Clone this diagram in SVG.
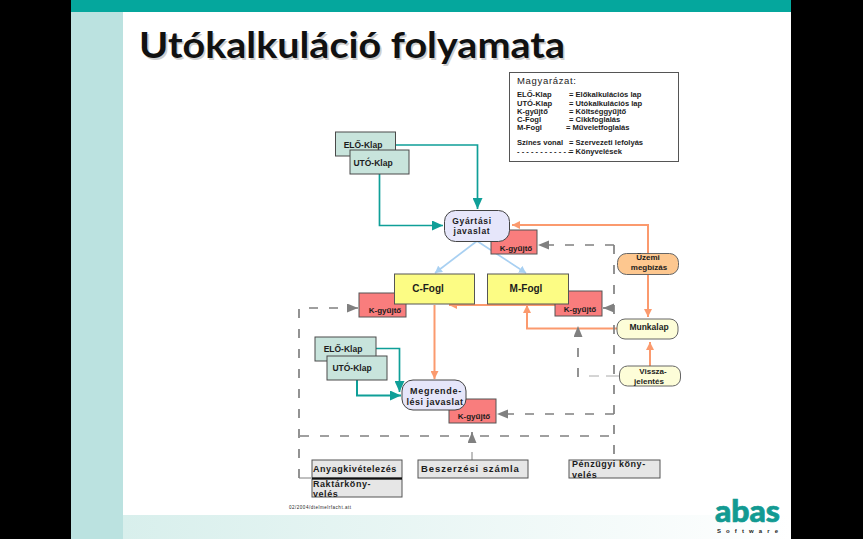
<svg xmlns="http://www.w3.org/2000/svg" width="863" height="539" viewBox="0 0 863 539">
<style>
text{font-family:"Liberation Sans",Arial,sans-serif;fill:#1c1c1c}
.sheet{fill:#c8e4dc;stroke:#4a4a4a;stroke-width:1}
.fog{fill:#fcfc84;stroke:#555;stroke-width:1}
.kg{fill:#f97d7d;stroke:#555;stroke-width:1}
.job{fill:#e6e6fa;stroke:#444;stroke-width:1}
.ord{fill:#fdfdd8;stroke:#666;stroke-width:1}
.grey{fill:#e6e6e6;stroke:#555;stroke-width:1}
.t{font-size:8.500px;font-weight:bold;text-anchor:middle}
.k{font-size:8px;font-weight:bold;text-anchor:middle}
.w{font-size:9px;font-weight:bold;letter-spacing:.55px}
.l{font-size:7.600px;font-weight:bold}
.flow{fill:none;stroke-width:1.7}
.teal{stroke:#0f9f98}
.orange{stroke:#fb9a6e;stroke-width:2}
.blue{stroke:#a8d0f2}
.dash{fill:none;stroke:#808080;stroke-width:1.7;stroke-dasharray:9 11}
.thin{fill:none;stroke:#808080;stroke-width:1}
</style>
<defs>
<linearGradient id="bandBottom" x1="0" x2="1" y1="0" y2="0"><stop offset="0" stop-color="#d8efec"/><stop offset="1" stop-color="#ffffff"/></linearGradient>
<marker id="aTeal" markerWidth="12" markerHeight="10" refX="11" refY="5" orient="auto" markerUnits="userSpaceOnUse"><path d="M0 0L11 5L0 10Z" fill="#0f9f98"/></marker>
<marker id="aOrange" markerWidth="9" markerHeight="8" refX="8" refY="4" orient="auto" markerUnits="userSpaceOnUse"><path d="M0 0L8 4L0 8Z" fill="#fb9a6e"/></marker>
<marker id="aBlue" markerWidth="8" markerHeight="8" refX="7" refY="4" orient="auto" markerUnits="userSpaceOnUse"><path d="M0 0L7 4L0 8Z" fill="#a8d0f2"/></marker>
<marker id="aGrey" markerWidth="12" markerHeight="10" refX="11" refY="4.500" orient="auto" markerUnits="userSpaceOnUse"><path d="M0 0L11 4.500L0 9Z" fill="#808080"/></marker>
</defs>

<!-- slide frame -->
<rect width="863" height="539" fill="#000"/>
<rect x="71" y="0" width="720" height="539" fill="#fff"/>
<rect x="71" y="12" width="52" height="527" fill="#bbe2e0"/>
<rect x="123" y="515" width="668" height="24" fill="url(#bandBottom)"/>
<rect x="71" y="0" width="720" height="12" fill="#05a79d"/>

<text x="139" y="58" font-size="36" textLength="426" lengthAdjust="spacingAndGlyphs" style="font-family:Lato,sans-serif;font-weight:700;fill:#111;text-shadow:1.500px 1.500px 0 #cfcfcf">Utókalkuláció folyamata</text>

<g id="legend">
<rect x="509.500" y="72.500" width="169" height="89" fill="#fff" stroke="#555" stroke-width="1"/>
<text x="517" y="84" font-size="9.500" textLength="59">Magyarázat:</text>
<text class="l" x="517" y="97">ELŐ-Klap</text><text class="l" x="569" y="97">= Előkalkulációs lap</text>
<text class="l" x="517" y="106">UTÓ-Klap</text><text class="l" x="569" y="106">= Utókalkulációs lap</text>
<text class="l" x="517" y="114">K-gyűjtő</text><text class="l" x="569" y="114">= Költséggyűjtő</text>
<text class="l" x="517" y="122">C-Fogl</text><text class="l" x="569" y="122">= Cikkfoglalás</text>
<text class="l" x="517" y="130">M-Fogl</text><text class="l" x="566" y="130">= Műveletfoglalás</text>
<text class="l" x="517" y="145">Színes vonal</text><text class="l" x="569" y="145">= Szervezeti lefolyás</text>
<text class="l" x="517" y="154">- - - - - - - - - - - -</text><text class="l" x="569" y="154">= Könyvelések</text>
</g>

<g id="connectors">
<path class="flow teal" d="M396 145H477.500V209" marker-end="url(#aTeal)"/>
<path class="flow teal" d="M379.500 174V225.500H443" marker-end="url(#aTeal)"/>
<path class="flow teal" d="M376 348.500H399.500V392" marker-end="url(#aTeal)"/>
<path class="flow teal" style="stroke-width:2" d="M357 380V395.500H401" marker-end="url(#aTeal)"/>
<path class="flow blue" d="M477 241L435 273" marker-end="url(#aBlue)"/>
<path class="flow blue" d="M477 241L526 273" marker-end="url(#aBlue)"/>
<path class="flow orange" d="M648 253V225H512" marker-end="url(#aOrange)"/>
<path class="flow orange" d="M648 274V317" marker-end="url(#aOrange)"/>
<path class="flow orange" d="M617 328.500H527V305" marker-end="url(#aOrange)"/>
<path class="flow orange" d="M650 366V342" marker-end="url(#aOrange)"/>
<path class="flow orange" d="M568 305H449" marker-end="url(#aOrange)"/>
<path class="flow orange" d="M434.500 305V379" marker-end="url(#aOrange)"/>
<path class="dash" d="M614 245H538" marker-end="url(#aGrey)"/>
<path class="dash" d="M614 245V460"/>
<path class="dash" style="stroke-dasharray:none" d="M614 308H603" marker-end="url(#aGrey)"/>
<path class="dash" d="M614 414H497" marker-end="url(#aGrey)"/>
<path class="dash" d="M578 377V326" marker-end="url(#aGrey)"/>
<path d="M589 376H599M606 376H619" fill="none" stroke="#aaa" stroke-width="1"/>
<path class="dash" d="M300 436H614"/>
<path class="dash" d="M299 478V308H358" marker-end="url(#aGrey)"/>
<path class="thin" d="M299 478H311"/>
<path class="thin" d="M472 460V452"/>
<path class="dash" style="stroke-dasharray:none" d="M472 441V432" marker-end="url(#aGrey)"/>
</g>

<g id="elo-klap-1"><rect class="sheet" x="335.500" y="132" width="60" height="24"/><text class="t" x="363" y="148">ELŐ-Klap</text></g>
<g id="uto-klap-1"><rect class="sheet" x="350" y="150" width="59" height="24"/><text class="t" x="373" y="166">UTÓ-Klap</text></g>
<g id="k-gyujto-1"><rect class="kg" x="491" y="230" width="46" height="24"/><text class="k" x="516" y="251">K-gyűjtő</text></g>
<g id="gyartasi-javaslat"><rect class="job" x="444.500" y="210.500" width="65" height="31" rx="11"/><text class="t" x="472" y="224" letter-spacing=".7">Gyártási</text><text class="t" x="472" y="234" letter-spacing=".7">javaslat</text></g>
<g id="k-gyujto-2"><rect class="kg" x="359" y="293" width="47" height="24"/><text class="k" x="385" y="313">K-gyűjtő</text></g>
<g id="c-fogl"><rect class="fog" x="394.500" y="274" width="80" height="30"/><text class="t" x="428" y="292" style="font-size:10px">C-Fogl</text></g>
<g id="k-gyujto-3"><rect class="kg" x="555" y="291" width="47" height="25"/><text class="k" x="580" y="312">K-gyűjtő</text></g>
<g id="m-fogl"><rect class="fog" x="487.500" y="274" width="81" height="30"/><text class="t" x="526" y="292" style="font-size:10px">M-Fogl</text></g>
<g id="elo-klap-2"><rect class="sheet" x="315" y="337" width="61" height="24"/><text class="t" x="343" y="352">ELŐ-Klap</text></g>
<g id="uto-klap-2"><rect class="sheet" x="327" y="356" width="60" height="24"/><text class="t" x="352" y="371">UTÓ-Klap</text></g>
<g id="k-gyujto-4"><rect class="kg" x="449" y="399" width="47" height="24"/><text class="k" x="474" y="419">K-gyűjtő</text></g>
<g id="megrendelesi-javaslat"><rect class="job" x="402" y="380" width="64" height="30" rx="11"/><text class="t" x="436" y="394" style="font-size:9px" letter-spacing=".7">Megrende-</text><text class="t" x="435" y="405" style="font-size:9px" letter-spacing=".5">lési javaslat</text></g>
<g id="uzemi-megbizas"><rect x="617.500" y="253.500" width="61" height="21" rx="9" fill="#fdc78f" stroke="#666"/><text class="t" x="648" y="260" style="font-size:8px">Üzemi</text><text class="t" x="649" y="270" style="font-size:8px">megbízás</text></g>
<g id="munkalap"><rect class="ord" x="617" y="319" width="61" height="20" rx="8"/><text class="t" x="649" y="330">Munkalap</text></g>
<g id="visszajelentes"><rect class="ord" x="619.500" y="366" width="61" height="20" rx="8"/><text class="t" x="653" y="374" style="font-size:8px">Vissza-</text><text class="t" x="649" y="384" style="font-size:8px">jelentés</text></g>
<g id="anyagkivetelezes"><rect class="grey" x="312" y="460" width="90" height="18"/><text class="w" x="313" y="472">Anyagkivételezés</text></g>
<g id="raktarkonyveles"><rect class="grey" x="312" y="479" width="90" height="18"/><path d="M312 478.500H402" stroke="#111" stroke-width="2"/><text class="w" x="313" y="487">Raktárköny-</text><text class="w" x="313" y="497">velés</text></g>
<g id="beszerzesi-szamla"><rect class="grey" x="418" y="460" width="110" height="18"/><text x="421" y="472" style="font-size:9.500px;font-weight:bold;letter-spacing:.9px">Beszerzési számla</text></g>
<g id="penzugyi-konyveles"><rect class="grey" x="569" y="460" width="91" height="18"/><text class="w" x="572" y="467">Pénzügyi köny-</text><text class="w" x="572" y="478">velés</text></g>

<text x="289" y="509" font-size="4.500" textLength="62">02/2004/dtelmelrfacht.att</text>

<g id="logo">
<text x="715" y="522" font-size="30" textLength="65" lengthAdjust="spacingAndGlyphs" style="font-family:Lato,sans-serif;font-weight:900;fill:#129a92;stroke:#129a92;stroke-width:.7">abas</text>
<text x="717" y="533" font-size="6" textLength="61" font-weight="bold">Software</text>
</g>
</svg>
